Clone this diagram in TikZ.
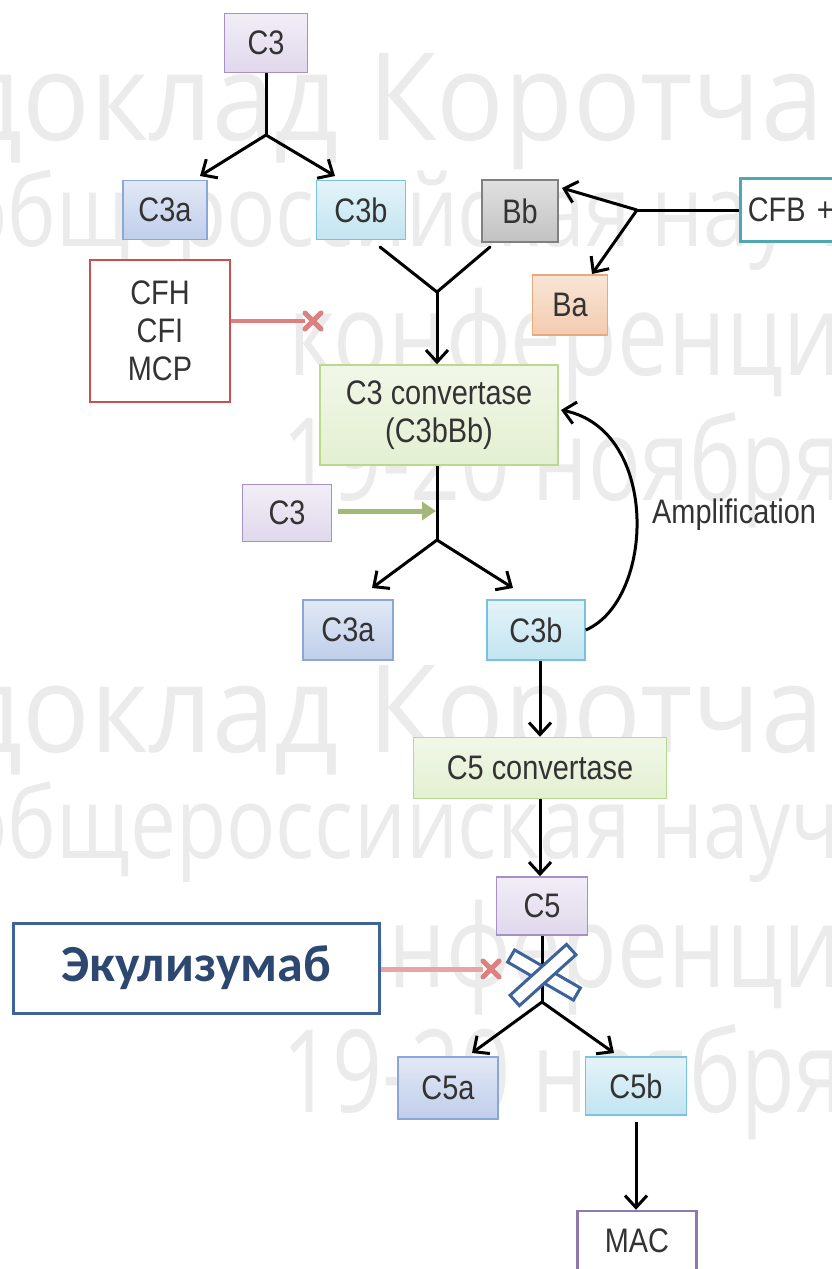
\documentclass[tikz,border=0pt]{standalone}
\usepackage{fontspec}
\setmainfont{Liberation Sans}
\newfontfamily\labelfont[FakeStretch=0.85]{Liberation Sans}
\newfontfamily\markfont{Open Sans}
\newfontfamily\drugfont{Carlito}
\usetikzlibrary{arrows.meta}
\definecolor{Cpurple}{HTML}{A78FC8}
\definecolor{Cblue}{HTML}{8BA6D9}
\definecolor{Ccyan}{HTML}{78C4DF}
\definecolor{Cgray}{HTML}{808080}
\definecolor{Corange}{HTML}{EAA979}
\definecolor{Cgreen}{HTML}{B9D98D}
\definecolor{Cred}{HTML}{C85050}
\definecolor{Cteal}{HTML}{4FA8B0}
\definecolor{Cdrug}{HTML}{2C4770}
\definecolor{Cdrugline}{HTML}{3D6399}
\definecolor{Carrowgreen}{HTML}{A3B878}
\definecolor{Cblock}{HTML}{DC8080}

\begin{document}
\begin{tikzpicture}[x=1pt,y=-1pt]
    \tikzset{%
        box/.style={draw, line width=1.5pt, minimum height=59pt, inner sep=0pt,
                font=\labelfont\fontsize{34}{38}\selectfont, text=black!80},
        purplebox/.style={box, draw=Cpurple, top color=Cpurple!15, bottom color=Cpurple!35},
        bluebox/.style={box, draw=Cblue, top color=Cblue!25, bottom color=Cblue!55},
        cyanbox/.style={box, draw=Ccyan, top color=Ccyan!20, bottom color=Ccyan!45},
        graybox/.style={box, draw=Cgray, top color=black!12, bottom color=black!24},
        orangebox/.style={box, draw=Corange, top color=Corange!30, bottom color=Corange!60},
        greenbox/.style={box, draw=Cgreen, top color=Cgreen!20, bottom color=Cgreen!40},
        flow/.style={line width=3pt, -{Straight Barb[length=12pt,width=22pt,line width=3pt]}},
        stem/.style={line width=3pt},
        block/.style={line width=4pt, draw=Cblock},
        xbar/.style={draw=Cdrugline, fill=white, line width=3pt, minimum width=76pt,
                minimum height=14pt, inner sep=0pt},
        watermark/.style={font=\markfont\fontsize{#1}{#1}\selectfont, text=black!8,
                anchor=base west, inner sep=0pt},
        pics/redx/.style={code={%
                        \draw [line width=5pt, Cblock, line cap=round] (-8,-8) -- (8,8) (-8,8) -- (8,-8);
                    }},
    }
    \useasboundingbox (0, 0) rectangle (831, 1269);

    % watermark behind the scheme
    \foreach \yy in {0, 612} {%
            \node [watermark=122] at (-42, 140+\yy) {\scalebox{0.92}[1]{доклад Коротча}};
            \node [watermark=100] at (-42, 246+\yy) {\scalebox{0.82}[1]{общероссийская науч}};
            \node [watermark=115] at (288, 375+\yy) {\scalebox{0.79}[1]{конференция}};
            \node [watermark=115] at (282, 500+\yy) {\scalebox{0.76}[1]{19-20 ноября}};
        }

    \node [purplebox, minimum width=83pt] (c3top) at (266, 43) {C3};
    \node [bluebox, minimum width=84pt] (c3a) at (165, 210) {C3a};
    \node [cyanbox, minimum width=89pt] (c3b) at (361, 210) {C3b};
    \node [graybox, minimum width=76pt, minimum height=62pt] (bb) at (520, 211) {Bb};
    \node [box, draw=Cteal, fill=white, line width=2.5pt, anchor=west, minimum width=140pt,
        minimum height=63pt, text width=125pt] (cfb) at (739, 210) {CFB +};
    \node [orangebox, minimum width=75pt, minimum height=60pt] (ba) at (570, 305) {Ba};
    \node [box, draw=Cred, fill=white, line width=2.5pt, minimum width=140pt, minimum height=142pt,
        align=center] (reg) at (160, 331) {CFH\\CFI\\MCP};
    \node [greenbox, minimum width=238pt, minimum height=100pt, align=center]
    (conv3) at (439, 415) {C3 convertase\\(C3bBb)};
    \node [purplebox, minimum width=89pt, minimum height=57pt] (c3mid) at (287, 513) {C3};
    \node [bluebox, minimum width=90pt, minimum height=60pt] (c3amid) at (348, 630) {C3a};
    \node [cyanbox, minimum width=98pt, minimum height=60pt] (c3bmid) at (536, 630) {C3b};
    \node [font=\labelfont\fontsize{34}{38}\selectfont, text=black!80, anchor=west,
        inner sep=0pt] (amp) at (652, 515) {Amplification};
    \node [greenbox, minimum width=253pt, minimum height=61pt] (conv5) at (540, 768) {C5 convertase};
    \node [purplebox, minimum width=91pt, minimum height=58pt] (c5) at (542, 906) {C5};
    \node [draw=Cdrugline, fill=white, line width=3pt, minimum width=366pt, minimum height=90pt,
        font=\drugfont\bfseries\fontsize{52}{56}\selectfont, text=Cdrug] (drug) at (196, 968) {Экулизумаб};
    \node [bluebox, minimum width=100pt, minimum height=62pt] (c5a) at (448, 1088) {C5a};
    \node [cyanbox, minimum width=101pt, minimum height=58pt] (c5b) at (636, 1086) {C5b};
    \node [box, draw=Cpurple!85!black, fill=white, line width=2.5pt, minimum width=119pt,
        minimum height=60pt] (mac) at (637, 1241) {MAC};

    % junctions
    \coordinate (j1) at (266, 135);
    \coordinate (j2) at (437, 292);
    \coordinate (j3) at (637, 210);
    \coordinate (j4) at (437, 540);
    \coordinate (j5) at (542, 1002);
    \coordinate (stop1) at (313, 321);
    \coordinate (stop2) at (491, 969);

    \draw [stem] (c3top) -- (j1);
    \draw [flow] (j1) -- (200, 176);
    \draw [flow] (j1) -- (335, 176);

    \draw [stem, line cap=round] (380, 247) -- (j2) -- (490, 247);
    \draw [flow] (j2) -- (conv3.north -| j2);

    \draw [stem] (cfb.west) -- (j3);
    \draw [flow] (j3) -- (562, 188);
    \draw [flow] (j3) -- (592, 274);

    \draw [block] (reg.east |- stop1) -- ([xshift=-8pt]stop1);
    \pic at (stop1) {redx};

    \draw [stem] (conv3.south -| j4) -- (j4);
    \draw [flow] (j4) -- (372, 588);
    \draw [flow] (j4) -- (513, 588);
    \draw [line width=5pt, Carrowgreen, -{Triangle[length=14pt,width=18pt]}] (c3mid.east) ++(6, -2) -- (436, 511);
    \draw [flow] (c3bmid.east) .. controls (655, 600) and (660, 430) .. (561, 410);

    \draw [flow] (c3bmid.south -| conv5) -- (conv5.north);
    \draw [flow] (conv5.south) -- (c5.north -| conv5);

    \draw [stem] (c5.south) -- (j5);
    \draw [flow] (j5) -- (472, 1053);
    \draw [flow] (j5) -- (614, 1053);
    \draw [flow] (c5b.south) ++(0, 6) -- (mac.north -| c5b);

    \draw [block, line width=5pt, draw=Cblock!70] (drug.east |- stop2) -- ([xshift=-8pt]stop2);
    \pic at (stop2) {redx};
    \node [xbar, rotate=-30] (bar1) at (544, 975) {};
    \node [xbar, rotate=42] (bar2) at (543, 975) {};
\end{tikzpicture}
\end{document}
